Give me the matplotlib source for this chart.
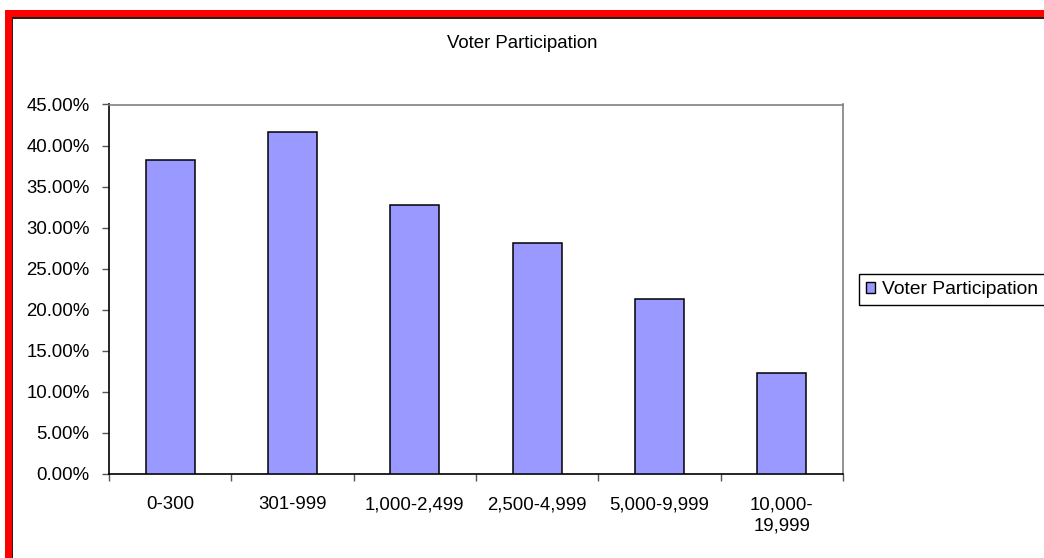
import matplotlib
matplotlib.use("Agg")
import matplotlib.pyplot as plt
from matplotlib.patches import Rectangle, Patch
from matplotlib.ticker import FuncFormatter, FixedLocator

categories = ["0-300", "301-999", "1,000-2,499", "2,500-4,999", "5,000-9,999", "10,000-\n19,999"]
participation = [38.2, 41.6, 32.8, 28.15, 21.3, 12.35]
y_ticks = [0, 5, 10, 15, 20, 25, 30, 35, 40, 45]
title = "Voter Participation"
series_name = "Voter Participation"

plt.rcParams['font.family'] = ['Liberation Sans', 'DejaVu Sans']
FS = 13.4

W, H = 1044, 558
fig = plt.figure(figsize=(W / 100, H / 100), dpi=100)

def px(x0, y0, w, h):
    return [x0 / W, 1 - (y0 + h) / H, w / W, h / H]

# chart area border (red with dark inner line), cut off at right and bottom
def frect(x0, y0, w, h, color):
    fig.patches.append(Rectangle((x0 / W, 1 - (y0 + h) / H), w / W, h / H,
                                 transform=fig.transFigure, facecolor=color,
                                 edgecolor='none', zorder=0))
frect(5, 10, 6.5, H, '#FF0000')
frect(5, 10, W, 6.7, '#FF0000')
frect(11.5, 16.7, 1.6, H, '#202020')
frect(11.5, 16.7, W, 1.8, '#202020')

ax = fig.add_axes(px(109, 104.5, 734, 369.5))
x = list(range(len(categories)))
ax.bar(x, participation, width=0.4, color='#9999FF', edgecolor='black', linewidth=1.1, zorder=3)

ax.set_xlim(-0.5, len(categories) - 0.5)
ax.set_ylim(0, 45)
ax.yaxis.set_major_locator(FixedLocator(y_ticks))
ax.yaxis.set_major_formatter(FuncFormatter(lambda v, p: f"{v:.2f}%"))

ax.xaxis.set_major_locator(FixedLocator([i - 0.5 for i in range(len(categories) + 1)]))
ax.xaxis.set_major_formatter(FuncFormatter(lambda v, p: ""))
ax.set_xticks(x, minor=True)
ax.set_xticklabels(categories, minor=True, fontsize=FS, linespacing=1.3)
ax.tick_params(axis='x', which='minor', length=0, pad=16)
ax.tick_params(axis='x', which='major', length=5, width=1, color='#555555', direction='out')
ax.tick_params(axis='y', which='major', length=5, width=1, color='#555555', direction='out',
               labelsize=FS, pad=9)

for s in ['left', 'bottom']:
    ax.spines[s].set_color('black')
    ax.spines[s].set_linewidth(1.2)
for s in ['top', 'right']:
    ax.spines[s].set_color('#808080')
    ax.spines[s].set_linewidth(1.2)

fig.text(522 / W, 1 - 44 / H, title, ha='center', va='center', fontsize=FS)

handle = Patch(facecolor='#9999FF', edgecolor='black', linewidth=1.0)
leg = fig.legend([handle], [series_name], loc='center left',
                 bbox_to_anchor=(859 / W, 1 - 289.5 / H), fontsize=13.9,
                 handlelength=0.5, handleheight=0.5, handletextpad=0.35,
                 borderpad=0.35, borderaxespad=0, fancybox=False, framealpha=1,
                 edgecolor='black')
leg.get_frame().set_linewidth(1.0)

fig.savefig("out.png", dpi=100)
